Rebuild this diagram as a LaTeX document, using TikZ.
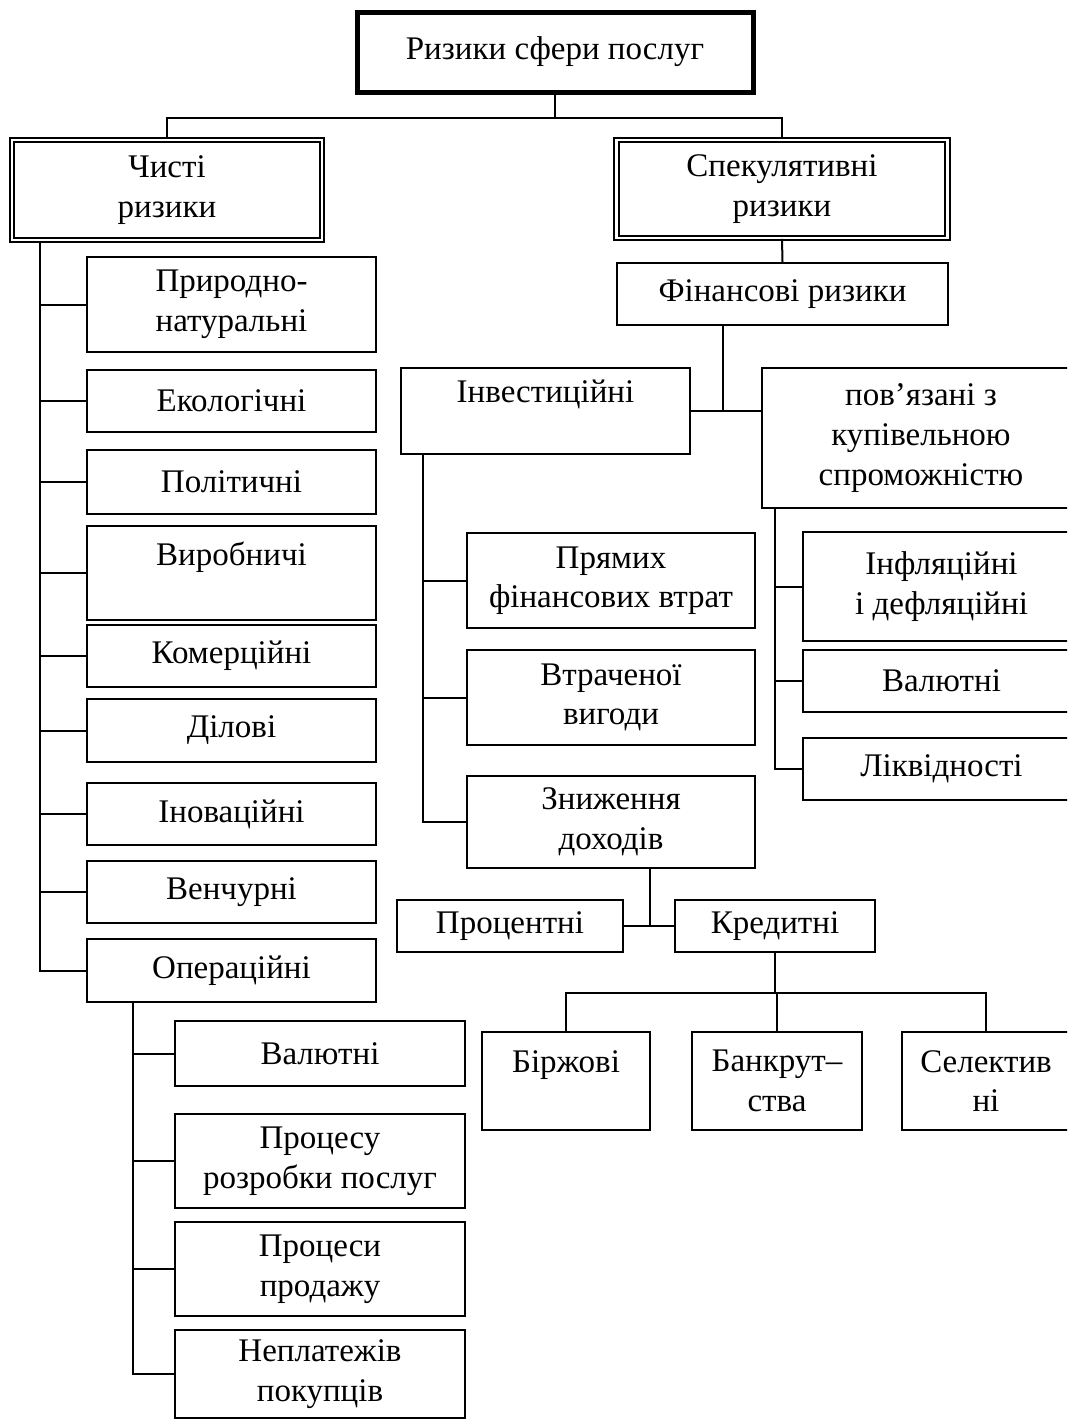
\documentclass[tikz,border=0pt]{standalone}
\usepackage{fontspec}
\setmainfont{Liberation Serif}

\begin{document}
\begin{tikzpicture}[x=0.5pt,y=-0.5pt,
		bx/.style n args={2}{draw,line width=1pt,minimum width=#1*0.5pt,minimum height=#2*0.5pt,inner sep=0pt,align=center,font=\fontsize{16.5}{19.8}\selectfont},
		bxd/.style n args={2}{bx={#1}{#2},double,line width=0.9pt,double distance=1.4pt},
		ln/.style={line width=1pt}]
		\clip (0,0) rectangle (1067,1420);
		%top
		\node[bx={396}{80},line width=2.5pt] (root) at (555,52) {Ризики сфери послуг};
		\node[bxd={310}{100}] (pure) at (167,190) {Чисті\\ризики};
		\node[bxd={331}{98}] (spec) at (782,189) {Спекулятивні\\ризики};
		\coordinate (r1) at (0,118);
		\draw[ln] (root.south) -- (root.south |- r1);
		\draw[ln] (pure.north) |- (r1 -| spec.north) -- (spec.north);
		%pure risks
		\node[bx={289}{95}] (nat) at (231.5,304.5) {Природно-\\натуральні};
		\node[bx={289}{62}] (eco) at (231.5,401) {Екологічні};
		\node[bx={289}{64}] (pol) at (231.5,482) {Політичні};
		\node[bx={289}{94}] (vyr) at (231.5,573) {Виробничі\\~};
		\node[bx={289}{62}] (kom) at (231.5,656) {Комерційні};
		\node[bx={289}{63}] (dil) at (231.5,730.5) {Ділові};
		\node[bx={289}{62}] (ino) at (231.5,814) {Іноваційні};
		\node[bx={289}{62}] (ven) at (231.5,892) {Венчурні};
		\node[bx={289}{63}] (oper) at (231.5,970.5) {Операційні};
		\coordinate (s1) at (40,0);
		\draw[ln] (pure.south -| s1) |- (oper.west);
		\foreach \n in {nat,eco,pol,vyr,kom,dil,ino,ven}
			\draw[ln] (\n.west -| s1) -- (\n.west);
		%operational
		\node[bx={290}{65}] (val1) at (320,1053.5) {Валютні};
		\node[bx={290}{94}] (rozr) at (320,1161) {Процесу\\розробки послуг};
		\node[bx={290}{94}] (prod) at (320,1269) {Процеси\\продажу};
		\node[bx={290}{88}] (nepl) at (320,1374) {Неплатежів\\покупців};
		\coordinate (s2) at (133,0);
		\draw[ln] (oper.south -| s2) |- (nepl.west);
		\foreach \n in {val1,rozr,prod}
			\draw[ln] (\n.west -| s2) -- (\n.west);
		%financial
		\node[bx={331}{62}] (fin) at (782.5,294) {Фінансові ризики};
		\draw[ln] (spec.south) -- (fin.north);
		\node[bx={289}{86}] (inv) at (545.5,411) {Інвестиційні\\~};
		\node[bx={318}{140}] (kup) at (921,438) {пов’язані з\\купівельною\\спроможністю};
		\coordinate (jf) at (723,0);
		\draw[ln] (inv.east) -- (inv.east -| kup.west);
		\draw[ln] (fin.south -| jf) -- (inv.east -| jf);
		%investment
		\node[bx={288}{95}] (pryam) at (611,580.5) {Прямих\\фінансових втрат};
		\node[bx={288}{95}] (vtrach) at (611,697.5) {Втраченої\\вигоди};
		\node[bx={288}{92}] (znyzh) at (611,822) {Зниження\\доходів};
		\coordinate (s3) at (423,0);
		\draw[ln] (inv.south -| s3) |- (znyzh.west);
		\foreach \n in {pryam,vtrach}
			\draw[ln] (\n.west -| s3) -- (\n.west);
		%purchasing power
		\node[bx={277}{109}] (infl) at (941.5,586.5) {Інфляційні\\і дефляційні};
		\node[bx={277}{62}] (val2) at (941.5,681) {Валютні};
		\node[bx={277}{62}] (likv) at (941.5,769) {Ліквідності};
		\coordinate (s4) at (775,0);
		\draw[ln] (kup.south -| s4) |- (likv.west);
		\foreach \n in {infl,val2}
			\draw[ln] (\n.west -| s4) -- (\n.west);
		%income
		\node[bx={226}{52}] (proc) at (510,926) {Процентні};
		\node[bx={200}{52}] (kred) at (775,926) {Кредитні};
		\coordinate (jz) at (650,0);
		\draw[ln] (znyzh.south -| jz) -- (proc.east -| jz);
		\draw[ln] (proc.east) -- (kred.west);
		%credit
		\node[bx={168}{98}] (birzh) at (566,1081) {Біржові\\~};
		\node[bx={170}{98}] (bank) at (777,1081) {Банкрут–\\ства};
		\node[bx={168}{98}] (sel) at (986,1081) {Селектив\\ні};
		\coordinate (r2) at (0,993);
		\draw[ln] (kred.south) -- (kred.south |- r2);
		\draw[ln] (birzh.north) |- (r2 -| sel.north) -- (sel.north);
		\draw[ln] (bank.north) -- (bank.north |- r2);
\end{tikzpicture}
\end{document}
